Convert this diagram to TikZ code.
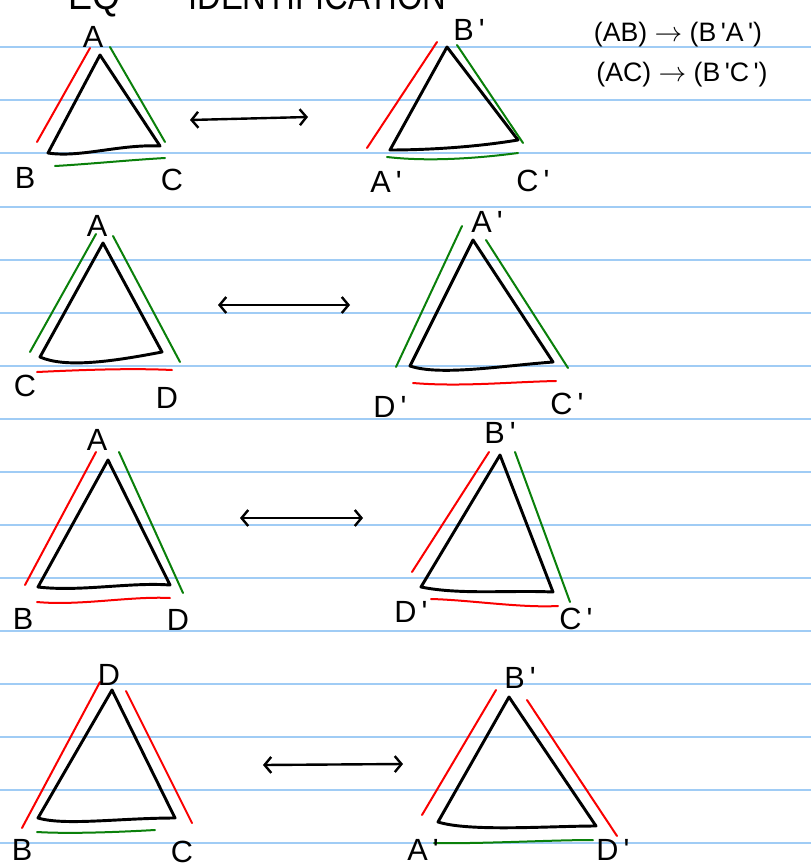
\documentclass[tikz,border=0pt]{standalone}
\usepackage{fontspec}
\setmainfont{Liberation Sans}
\usetikzlibrary{arrows.meta}
\definecolor{rule}{RGB}{160,204,245}
\definecolor{gr}{RGB}{10,128,10}
\definecolor{rd}{RGB}{250,0,0}
\newcommand{\prm}{\,\textquotesingle}
\begin{document}
\begin{tikzpicture}[x=0.75pt,y=-0.75pt,
  tri/.style={line width=2.2pt,line join=round,line cap=round},
  redl/.style={rd,line width=1.5pt,line cap=round},
  grl/.style={gr,line width=1.5pt,line cap=round},
  lab/.style={font=\fontsize{23}{23}\selectfont,inner sep=0pt},
  note/.style={font=\fontsize{20}{20}\selectfont,inner sep=0pt},
  ttl/.style={anchor=base west,font=\fontsize{30}{30}\selectfont,inner sep=0pt},
  dbl/.style={line width=1.8pt,line cap=round,{Straight Barb[length=5pt,width=12pt]}-{Straight Barb[length=5pt,width=12pt]}},
]
\useasboundingbox (0,0) rectangle (811,867);
\fill[white] (0,0) rectangle (811,867);
\clip (0,0) rectangle (811,867);
\foreach \y in {47,100,153,207,260,313,366,419,472,525,578,631,684,737,790,843}
  \draw[rule,line width=1.5pt] (0,\y) -- (811,\y);

% cut-off title (only its lower edge shows)
\node[ttl] (title1) at (68,10) {\scalebox{0.9}[1]{EQ}};
\node[ttl] (title2) at (188,10) {\scalebox{0.82}[1]{IDENTIFICATION}};

% notes
\node[note] (n1) at (678,35) {(AB) $\rightarrow$ (B\prm A\prm)};
\node[note] (n2) at (682,75) {(AC) $\rightarrow$ (B\prm C\prm)};

%%%% Row 1
\coordinate (a1A) at (100,55); \coordinate (a1B) at (48,153); \coordinate (a1C) at (160,146);
\draw[tri] (a1A) -- (a1B) .. controls (80,158) and (120,144) .. (a1C) -- cycle;
\draw[redl] (90,48) -- (37,142);
\draw[grl] (110,47) -- (165,142);
\draw[grl] (55,166) .. controls (90,164) and (130,160) .. (165,158);
\node[lab] (l1A) at (93,37) {A};
\node[lab] (l1B) at (25,178) {B};
\node[lab] (l1C) at (172,180) {C};

\coordinate (b1A) at (447,47); \coordinate (b1B) at (390,150); \coordinate (b1C) at (518,140);
\draw[tri] (b1A) -- (b1B) .. controls (420,150) and (470,148) .. (b1C) -- cycle;
\draw[redl] (437,42) -- (367,148);
\draw[grl] (457,45) -- (523,143);
\draw[grl] (387,157) .. controls (430,162) and (480,158) .. (518,153);
\node[lab] (l1Bp) at (469,30) {B\prm};
\node[lab] (l1Ap) at (386,182) {A\prm};
\node[lab] (l1Cp) at (533,181) {C\prm};

\coordinate (r1l) at (190,120); \coordinate (r1r) at (308,117);
\draw[dbl] (r1l) -- (r1r);

%%%% Row 2
\coordinate (a2A) at (103,243); \coordinate (a2B) at (40,357); \coordinate (a2C) at (162,352);
\draw[tri] (a2A) -- (a2B) .. controls (65,368) and (110,362) .. (a2C) -- cycle;
\draw[grl] (96,234) -- (30,352);
\draw[grl] (113,236) -- (180,362);
\draw[redl] (37,372) .. controls (80,370) and (130,368) .. (172,370);
\node[lab] (l2A) at (97,226) {A};
\node[lab] (l2C) at (25,386) {C};
\node[lab] (l2D) at (167,398) {D};

\coordinate (b2A) at (473,240); \coordinate (b2B) at (410,366); \coordinate (b2C) at (553,362);
\draw[tri] (b2A) -- (b2B) .. controls (440,376) and (500,366) .. (b2C) -- cycle;
\draw[grl] (462,226) -- (396,367);
\draw[grl] (486,240) -- (568,368);
\draw[redl] (413,383) .. controls (460,387) and (510,382) .. (556,381);
\node[lab] (l2Ap) at (487,222) {A\prm};
\node[lab] (l2Dp) at (390,407) {D\prm};
\node[lab] (l2Cp) at (567,404) {C\prm};

\coordinate (r2l) at (218,305); \coordinate (r2r) at (350,305);
\draw[dbl] (r2l) -- (r2r);

%%%% Row 3
\coordinate (a3A) at (108,460); \coordinate (a3B) at (38,587); \coordinate (a3C) at (170,585);
\draw[tri] (a3A) -- (a3B) .. controls (80,592) and (130,582) .. (a3C) -- cycle;
\draw[redl] (96,452) -- (25,585);
\draw[grl] (119,452) -- (183,593);
\draw[redl] (37,602) .. controls (80,606) and (130,596) .. (170,598);
\node[lab] (l3A) at (97,440) {A};
\node[lab] (l3B) at (23,619) {B};
\node[lab] (l3D) at (178,620) {D};

\coordinate (b3A) at (500,455); \coordinate (b3B) at (421,587); \coordinate (b3C) at (553,592);
\draw[tri] (b3A) -- (b3B) .. controls (460,595) and (510,590) .. (b3C) -- cycle;
\draw[redl] (489,452) -- (412,572);
\draw[grl] (515,452) -- (570,602);
\draw[redl] (431,599) .. controls (470,600) and (520,608) .. (558,606);
\node[lab] (l3Bp) at (500,433) {B\prm};
\node[lab] (l3Dp) at (411,612) {D\prm};
\node[lab] (l3Cp) at (576,619) {C\prm};

\coordinate (r3l) at (240,518); \coordinate (r3r) at (363,518);
\draw[dbl] (r3l) -- (r3r);

%%%% Row 4
\coordinate (a4A) at (112,690); \coordinate (a4B) at (38,818); \coordinate (a4C) at (175,818);
\draw[tri] (a4A) -- (a4B) .. controls (65,826) and (120,818) .. (a4C) -- cycle;
\draw[redl] (100,682) -- (22,828);
\draw[redl] (126,691) -- (192,823);
\draw[grl] (37,832) .. controls (70,834) and (120,832) .. (155,830);
\node[lab] (l4D) at (109,675) {D};
\node[lab] (l4B) at (22,850) {B};
\node[lab] (l4C) at (182,852) {C};

\coordinate (b4A) at (509,697); \coordinate (b4B) at (438,822); \coordinate (b4C) at (596,826);
\draw[tri] (b4A) -- (b4B) .. controls (470,832) and (550,826) .. (b4C) -- cycle;
\draw[redl] (496,690) -- (422,815);
\draw[redl] (527,700) -- (617,836);
\draw[grl] (434,843) .. controls (480,844) and (550,840) .. (593,840);
\node[lab] (l4Bp) at (520,678) {B\prm};
\node[lab] (l4Ap) at (423,850) {A\prm};
\node[lab] (l4Dp) at (613,850) {D\prm};

\coordinate (r4l) at (263,765); \coordinate (r4r) at (403,764);
\draw[dbl] (r4l) -- (r4r);
\end{tikzpicture}
\end{document}
